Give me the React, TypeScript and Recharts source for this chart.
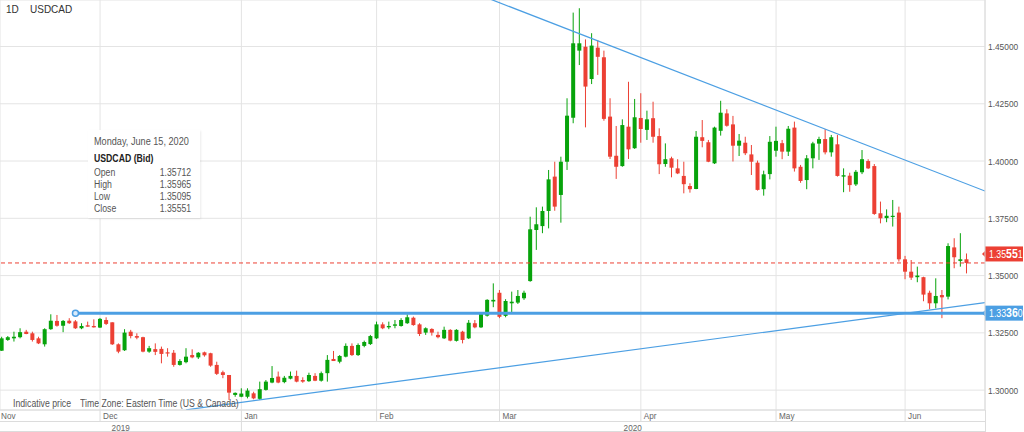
import React from 'react';
import {
  ComposedChart,
  Bar,
  XAxis,
  YAxis,
  CartesianGrid,
  ReferenceLine,
  ReferenceDot,
} from 'recharts';

const W = 1024;
const H = 432;
const FONT = '"Liberation Sans", Arial, Helvetica, sans-serif';
const GREEN = '#07a30b';
const RED = '#ec4034';
const BLUE = '#4c9fe3';
const GRID = '#e4e4e4';
const FRAME = '#dcdcdc';

// daily USDCAD candles, Nov 2019 .. Jun 15 2020
const opens = [
  1.3172, 1.3219, 1.3226, 1.3231, 1.3255, 1.3248, 1.3226, 1.32, 1.3266, 1.3302,
  1.3281, 1.3303, 1.33, 1.327, 1.3283, 1.328, 1.3273, 1.3306, 1.3296, 1.32,
  1.3174, 1.3255, 1.3236, 1.3231, 1.3168, 1.3179, 1.318, 1.3165, 1.3163, 1.311,
  1.3122, 1.3153, 1.3143, 1.3165, 1.3161, 1.311, 1.3078, 1.3066, 1.2979, 1.2971,
  1.2971, 1.2986, 1.2962, 1.3001, 1.3033, 1.3059, 1.3035, 1.305, 1.3062, 1.3044,
  1.3039, 1.3062, 1.3041, 1.3074, 1.3136, 1.3124, 1.3146, 1.3193, 1.3153, 1.3193,
  1.3201, 1.3226, 1.3287, 1.3274, 1.3281, 1.328, 1.3292, 1.3316, 1.3287, 1.3251,
  1.3267, 1.3241, 1.3226, 1.3263, 1.3215, 1.3255, 1.3226, 1.3292, 1.3274, 1.3325,
  1.3387, 1.3425, 1.3324, 1.3379, 1.3382, 1.3401, 1.3476, 1.3699, 1.3716, 1.3782,
  1.3932, 1.3852, 1.3997, 1.4189, 1.4482, 1.4499, 1.4358, 1.4495, 1.4453, 1.4194,
  1.4023, 1.3978, 1.415, 1.4056, 1.4188, 1.4136, 1.4187, 1.4109, 1.3987, 1.4012,
  1.3968, 1.3935, 1.3891, 1.3878, 1.4104, 1.4082, 1.399, 1.4132, 1.4208, 1.416,
  1.4067, 1.408, 1.4029, 1.3993, 1.3877, 1.3943, 1.4045, 1.4078, 1.4041, 1.4146,
  1.3975, 1.3917, 1.4012, 1.4076, 1.4096, 1.4038, 1.4073, 1.3932, 1.3936, 1.3898,
  1.3951, 1.4, 1.3978, 1.3772, 1.3751, 1.3757, 1.3775, 1.3571, 1.3517, 1.3493,
  1.3493, 1.3425, 1.3379, 1.3415, 1.3408, 1.3623, 1.3564, 1.35712,
];
const highs = [
  1.3233, 1.3236, 1.3255, 1.327, 1.3263, 1.3255, 1.3233, 1.327, 1.3331, 1.3328,
  1.3306, 1.3314, 1.3306, 1.3292, 1.3299, 1.3309, 1.3315, 1.3318, 1.3296, 1.3204,
  1.3266, 1.3263, 1.3248, 1.3233, 1.3193, 1.3204, 1.319, 1.3183, 1.3175, 1.3135,
  1.3183, 1.3178, 1.3166, 1.3168, 1.3163, 1.3124, 1.3085, 1.3066, 1.299, 1.3008,
  1.3008, 1.2993, 1.3037, 1.3044, 1.3105, 1.3081, 1.3062, 1.3081, 1.3085, 1.3056,
  1.3076, 1.3074, 1.3081, 1.3153, 1.3171, 1.3153, 1.3204, 1.3204, 1.3204, 1.3216,
  1.3241, 1.3299, 1.3296, 1.3299, 1.3306, 1.3314, 1.3331, 1.3321, 1.3292, 1.3274,
  1.327, 1.3255, 1.3277, 1.3266, 1.3266, 1.3259, 1.3306, 1.3306, 1.3341, 1.3397,
  1.3466, 1.3437, 1.3397, 1.343, 1.3437, 1.3434, 1.3757, 1.3798, 1.3801, 1.3961,
  1.3997, 1.4019, 1.4274, 1.4648, 1.4667, 1.4531, 1.4558, 1.4528, 1.4482, 1.4274,
  1.4153, 1.4182, 1.4346, 1.4271, 1.4296, 1.422, 1.4259, 1.4143, 1.4077, 1.4019,
  1.4008, 1.3997, 1.3903, 1.4131, 1.4179, 1.4092, 1.415, 1.4263, 1.4226, 1.4197,
  1.4118, 1.4106, 1.407, 1.4002, 1.3958, 1.4109, 1.415, 1.4092, 1.4153, 1.4172,
  1.3983, 1.4026, 1.4084, 1.4106, 1.4139, 1.4114, 1.4114, 1.3968, 1.3949, 1.3961,
  1.4048, 1.4008, 1.3987, 1.3823, 1.3789, 1.383, 1.3801, 1.3586, 1.3568, 1.3539,
  1.3495, 1.3434, 1.3488, 1.3437, 1.3641, 1.3663, 1.3685, 1.35965,
];
const lows = [
  1.3171, 1.3215, 1.3212, 1.3226, 1.3244, 1.3212, 1.3201, 1.319, 1.3263, 1.3277,
  1.3253, 1.3289, 1.3267, 1.3266, 1.3277, 1.3273, 1.3271, 1.3284, 1.3197, 1.3161,
  1.3171, 1.3226, 1.3222, 1.3165, 1.3163, 1.3153, 1.3117, 1.3146, 1.3102, 1.3107,
  1.3117, 1.3139, 1.3136, 1.3146, 1.3102, 1.3066, 1.3052, 1.2957, 1.2971, 1.2969,
  1.2964, 1.296, 1.2957, 1.2998, 1.303, 1.303, 1.303, 1.3047, 1.3034, 1.3032,
  1.3036, 1.3039, 1.3037, 1.3037, 1.3127, 1.3117, 1.3143, 1.3149, 1.3149, 1.3187,
  1.3197, 1.3223, 1.3266, 1.3266, 1.327, 1.3277, 1.3289, 1.3281, 1.3236, 1.3241,
  1.3238, 1.3226, 1.3223, 1.3213, 1.3212, 1.3204, 1.3223, 1.327, 1.3271, 1.3321,
  1.3362, 1.3314, 1.3318, 1.3335, 1.3376, 1.3394, 1.3473, 1.3612, 1.3685, 1.3706,
  1.3783, 1.3731, 1.3961, 1.4165, 1.4419, 1.4147, 1.4336, 1.4376, 1.4176, 1.4009,
  1.3922, 1.3975, 1.4009, 1.4053, 1.408, 1.4092, 1.408, 1.3943, 1.3975, 1.3929,
  1.3943, 1.3859, 1.3862, 1.3877, 1.406, 1.3995, 1.3987, 1.4111, 1.415, 1.3998,
  1.4022, 1.4026, 1.3939, 1.3871, 1.3849, 1.392, 1.4019, 1.4008, 1.4022, 1.3954,
  1.3905, 1.3877, 1.3968, 1.4005, 1.4029, 1.4019, 1.3932, 1.3864, 1.3866, 1.3891,
  1.3943, 1.3965, 1.3765, 1.3728, 1.3733, 1.3714, 1.3561, 1.3484, 1.3481, 1.3471,
  1.3388, 1.3353, 1.3357, 1.3314, 1.3396, 1.3532, 1.3539, 1.35095,
];
const closes = [
  1.3226, 1.3231, 1.3233, 1.3253, 1.3245, 1.3219, 1.3204, 1.3266, 1.3303, 1.3281,
  1.3302, 1.3292, 1.327, 1.328, 1.3277, 1.3274, 1.3311, 1.3289, 1.32, 1.3168,
  1.3251, 1.3236, 1.3229, 1.3168, 1.3183, 1.3167, 1.3158, 1.3161, 1.311, 1.3127,
  1.3146, 1.3143, 1.3163, 1.3152, 1.3107, 1.3071, 1.3066, 1.2989, 1.2988, 1.2985,
  1.2998, 1.2964, 1.3004, 1.3037, 1.3053, 1.3033, 1.3054, 1.3062, 1.3037, 1.3037,
  1.3066, 1.3041, 1.3074, 1.3132, 1.3127, 1.3149, 1.3193, 1.3153, 1.3197, 1.321,
  1.3236, 1.3287, 1.327, 1.328, 1.3287, 1.3306, 1.3318, 1.3284, 1.3245, 1.327,
  1.3251, 1.3231, 1.3263, 1.3216, 1.3263, 1.3219, 1.3294, 1.3274, 1.3335, 1.3394,
  1.3394, 1.332, 1.3389, 1.3386, 1.3411, 1.3425, 1.3702, 1.3724, 1.3782, 1.392,
  1.3801, 1.3997, 1.4198, 1.4514, 1.4514, 1.4325, 1.4504, 1.4455, 1.4184, 1.4019,
  1.3975, 1.4157, 1.4051, 1.4191, 1.414, 1.4182, 1.4106, 1.3986, 1.4008, 1.3971,
  1.3946, 1.3899, 1.3877, 1.4106, 1.4088, 1.3997, 1.4146, 1.4211, 1.4154, 1.4067,
  1.4089, 1.4034, 1.3997, 1.3874, 1.3942, 1.4084, 1.4088, 1.4041, 1.4141, 1.3968,
  1.3913, 1.4012, 1.4077, 1.4096, 1.4038, 1.4104, 1.3935, 1.3938, 1.3895, 1.3953,
  1.4008, 1.3968, 1.3769, 1.375, 1.3761, 1.3761, 1.3571, 1.3517, 1.3491, 1.35,
  1.3417, 1.3379, 1.3411, 1.3405, 1.3629, 1.358, 1.3571, 1.35551,
];

// index of the first candle of each month
const monthStarts = [16, 39, 61, 81, 104, 126, 147];
const monthNames = ['Dec', 'Jan', 'Feb', 'Mar', 'Apr', 'May', 'Jun'];
const firstMonth = 'Nov';
const yearNames = ['2019', '2020'];
const priceTicks = [1.3, 1.325, 1.35, 1.375, 1.4, 1.425, 1.45];

const lastClose = 1.35551;
const supportLevel = 1.3336;
const supportStart = 12;
const upperTrend = [
  { x: 79, y: 1.4712 },
  { x: 160, y: 1.3869 },
];
const lowerTrend = [
  { x: 30, y: 1.2914 },
  { x: 160, y: 1.3382 },
];

const infoDate = 'Monday, June 15, 2020';
const infoTitle = 'USDCAD (Bid)';
const infoRows = [
  ['Open', '1.35712'],
  ['High', '1.35965'],
  ['Low', '1.35095'],
  ['Close', '1.35551'],
];

const data = opens.map((o, i) => ({
  i,
  open: o,
  high: highs[i],
  low: lows[i],
  close: closes[i],
  range: [lows[i], highs[i]],
}));

const Candle = (props: any) => {
  const { x, y, width, height, payload } = props;
  if (!payload || x == null) return null;
  const { open, close, high, low } = payload;
  const top0 = Math.min(y, y + height);
  const span = Math.abs(height);
  const k = high === low ? 0 : span / (high - low);
  const yOf = (v: number) => top0 + (high - v) * k;
  const color = close >= open ? GREEN : RED;
  const bTop = yOf(Math.max(open, close));
  const bBot = yOf(Math.min(open, close));
  const cx = x + width / 2;
  return (
    <g>
      <line x1={cx} x2={cx} y1={top0} y2={top0 + span} stroke={color} strokeWidth={1} />
      <rect x={x} y={bTop} width={width} height={Math.max(1.2, bBot - bTop)} fill={color} />
    </g>
  );
};

const MonthTick = (props: any) => {
  const { x, y, payload } = props;
  const k = monthStarts.indexOf(payload.value);
  const name = monthNames[k];
  return (
    <g fontFamily={FONT} fontSize={9.5} fill="#666">
      <line x1={x} x2={x} y1={y} y2={y + 11} stroke={FRAME} />
      <text transform={`translate(${x + 3},${y + 9}) scale(0.86,1)`}>{name}</text>
      {k === 0 && <text transform={`translate(1,${y + 9}) scale(0.86,1)`}>{firstMonth}</text>}
      {name === 'Jan' && (
        <g>
          <line x1={x} x2={x} y1={y + 11} y2={y + 22} stroke={FRAME} />
          <text textAnchor="middle" transform={`translate(${x / 2},${y + 20.5}) scale(0.86,1)`}>
            {yearNames[0]}
          </text>
          <text textAnchor="middle" transform={`translate(${(x + W) / 2},${y + 20.5}) scale(0.86,1)`}>
            {yearNames[1]}
          </text>
        </g>
      )}
    </g>
  );
};

const PriceTick = (props: any) => {
  const { x, y, payload } = props;
  return (
    <text
      transform={`translate(${x + 3},${y + 3.5}) scale(0.88,1)`}
      fontSize={9.5}
      fill="#555"
      fontFamily={FONT}
    >
      {Number(payload.value).toFixed(5)}
    </text>
  );
};

const PriceTag = (props: any) => {
  const { viewBox, value, color, shift } = props;
  if (!viewBox) return null;
  const left = viewBox.x + viewBox.width;
  const cy = viewBox.y + (shift || 0);
  const s = value.toFixed(5);
  return (
    <g>
      <polygon points={`${left - 3},${cy} ${left + 1},${cy - 4} ${left + 1},${cy + 4}`} fill={color} />
      <rect x={left} y={cy - 7.5} width={38} height={15} fill={color} />
      <text transform={`translate(${left + 4},${cy + 4}) scale(0.88,1)`} fill="#fff" fontFamily={FONT}>
        <tspan fontSize={10}>{s.slice(0, 4)}</tspan>
        <tspan fontSize={12} fontWeight="bold">{s.slice(4, 6)}</tspan>
        <tspan fontSize={10}>{s.slice(6)}</tspan>
      </text>
    </g>
  );
};

const Txt = ({ left, right, cy, size, color, weight, children }: any) => (
  <div
    style={{
      position: 'absolute',
      left: right == null ? left : undefined,
      right: right == null ? undefined : W - right,
      top: cy - size * 0.6,
      fontSize: size,
      lineHeight: `${size * 1.2}px`,
      color,
      fontWeight: weight || 'normal',
      fontFamily: FONT,
      whiteSpace: 'nowrap',
      transform: 'scaleX(0.87)',
      transformOrigin: right == null ? 'left center' : 'right center',
    }}
  >
    {children}
  </div>
);

export default function App() {
  return (
    <div style={{ position: 'absolute', left: 0, top: 0, width: W, height: H, background: '#fff', overflow: 'hidden' }}>
      <ComposedChart width={W} height={H} data={data} margin={{ top: 0, right: 0, bottom: 0, left: 0 }}>
        <CartesianGrid stroke={GRID} />
        <XAxis
          dataKey="i"
          type="number"
          scale="linear"
          domain={[-0.28, 160]}
          allowDataOverflow
          ticks={monthStarts}
          interval={0}
          height={22}
          tickSize={0}
          tickMargin={0}
          tickLine={false}
          axisLine={{ stroke: FRAME }}
          tick={(p: any) => <MonthTick {...p} />}
        />
        <YAxis
          orientation="right"
          type="number"
          domain={[1.29132, 1.4703]}
          allowDataOverflow
          ticks={priceTicks}
          interval={0}
          width={39}
          tickSize={0}
          tickMargin={0}
          tickLine={false}
          axisLine={{ stroke: FRAME }}
          tick={(p: any) => <PriceTick {...p} />}
        />
        <Bar dataKey="range" barSize={4} fill={GREEN} shape={Candle} isAnimationActive={false} />
        <ReferenceLine
          y={lastClose}
          stroke={RED}
          strokeDasharray="4 3"
          label={<PriceTag value={lastClose} color={RED} shift={-9} />}
        />
        <ReferenceLine
          segment={[
            { x: supportStart, y: supportLevel },
            { x: 160, y: supportLevel },
          ]}
          stroke={BLUE}
          strokeWidth={3}
          label={<PriceTag value={supportLevel} color={BLUE} shift={0} />}
        />
        <ReferenceDot x={supportStart} y={supportLevel} r={3} fill="#d8ebfb" stroke={BLUE} strokeWidth={1.5} />
        <ReferenceLine segment={upperTrend} stroke={BLUE} strokeWidth={1.2} ifOverflow="hidden" />
        <ReferenceLine segment={lowerTrend} stroke={BLUE} strokeWidth={1.2} ifOverflow="hidden" />
      </ComposedChart>

      <div style={{ position: 'absolute', left: 0, top: 421, width: 985, height: 1, background: FRAME }} />
      <div style={{ position: 'absolute', left: 0, top: 431, width: 985, height: 1, background: FRAME }} />
      <div style={{ position: 'absolute', left: 985, top: 410, width: 1, height: 22, background: FRAME }} />

      <Txt left={6} cy={10} size={11.5} color="#333">1D</Txt>
      <Txt left={30} cy={10} size={11.5} color="#333">USDCAD</Txt>

      <div
        style={{
          position: 'absolute',
          left: 88,
          top: 130,
          width: 112,
          height: 88,
          background: '#fff',
          boxShadow: '1px 1px 2px rgba(0,0,0,0.08)',
        }}
      />
      <Txt left={94} cy={141} size={10.5} color="#555">{infoDate}</Txt>
      <Txt left={94} cy={159} size={10} color="#222" weight="bold">{infoTitle}</Txt>
      {infoRows.map(([k, v], n) => (
        <React.Fragment key={k}>
          <Txt left={94} cy={173 + n * 12} size={10} color="#555">{k}</Txt>
          <Txt right={191} cy={173 + n * 12} size={10} color="#555">{v}</Txt>
        </React.Fragment>
      ))}

      <Txt left={13} cy={404} size={10} color="#555">Indicative price</Txt>
      <Txt left={80} cy={404} size={10} color="#555">Time Zone: Eastern Time (US &amp; Canada)</Txt>
    </div>
  );
}
